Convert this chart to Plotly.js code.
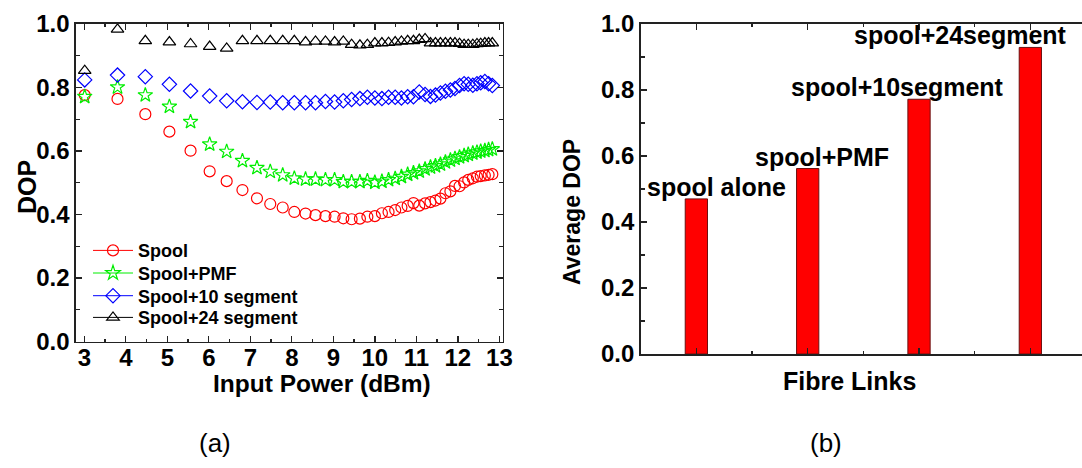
<!DOCTYPE html>
<html>
<head>
<meta charset="utf-8">
<script src="https://cdn.plot.ly/plotly-3.0.1.min.js"></script>
<style>
html,body{margin:0;padding:0;background:#fff;}
#chart{width:1082px;height:468px;}
</style>
</head>
<body>
<div id="chart"></div>
<script>
// ---- Data (a): DOP vs input power ----
var inputPower = [3.01,3.80,4.47,5.05,5.56,6.02,6.43,6.81,7.16,7.48,7.78,8.06,8.33,8.57,8.81,9.03,9.24,9.44,9.64,9.82,10.00,10.17,10.33,10.49,10.64,10.79,10.93,11.07,11.21,11.34,11.46,11.58,11.70,11.82,11.93,12.04,12.15,12.25,12.36,12.46,12.55,12.65,12.74,12.83];
var dopSpool = [0.776,0.764,0.716,0.661,0.601,0.536,0.505,0.477,0.451,0.433,0.422,0.408,0.403,0.398,0.395,0.393,0.388,0.385,0.387,0.393,0.395,0.404,0.408,0.414,0.422,0.427,0.436,0.428,0.435,0.439,0.444,0.450,0.467,0.473,0.490,0.489,0.501,0.509,0.514,0.519,0.521,0.523,0.525,0.527];
var dopSpoolPMF = [0.771,0.801,0.776,0.740,0.692,0.621,0.598,0.569,0.547,0.535,0.524,0.514,0.511,0.511,0.509,0.509,0.503,0.503,0.503,0.506,0.501,0.504,0.509,0.513,0.519,0.526,0.531,0.536,0.543,0.549,0.553,0.558,0.565,0.571,0.576,0.581,0.585,0.589,0.593,0.596,0.599,0.601,0.604,0.606];
var dopSpool10 = [0.824,0.839,0.834,0.810,0.789,0.773,0.758,0.755,0.753,0.754,0.752,0.752,0.752,0.752,0.756,0.754,0.758,0.762,0.765,0.769,0.767,0.765,0.769,0.769,0.767,0.771,0.771,0.786,0.778,0.772,0.776,0.783,0.788,0.792,0.797,0.806,0.812,0.810,0.807,0.812,0.815,0.819,0.812,0.806];
var dopSpool24 = [0.853,0.983,0.947,0.943,0.937,0.929,0.923,0.947,0.947,0.947,0.947,0.947,0.943,0.945,0.945,0.943,0.945,0.935,0.933,0.935,0.940,0.940,0.941,0.943,0.945,0.947,0.947,0.951,0.953,0.940,0.940,0.940,0.940,0.940,0.940,0.938,0.935,0.935,0.935,0.937,0.938,0.940,0.940,0.940];
var seriesNames = ["Spool","Spool+PMF","Spool+10 segment","Spool+24 segment"];

// ---- Data (b): average DOP per fibre link ----
var fibreLinks = ["spool alone","spool+PMF","spool+10segment","spool+24segment"];
var avgDOP = [0.470,0.562,0.772,0.929];

// ---- Styles ----
var seriesColors = ["#ff0000","#00ee00","#0000ff","#000000"];
var seriesSymbols = ["circle-open","star-open","diamond-open","triangle-up-open"];
var seriesData = [dopSpool, dopSpoolPMF, dopSpool10, dopSpool24];
var labelXShift = [20, 14, -22, -70];
var legendRowY = [250.7, 273.3, 296, 317.7];

var W = 1082, H = 468;
function px(x){return x/W;}
function py(y){return 1 - y/H;}

var FONT = "Arial, 'Liberation Sans', sans-serif";
var traces = [];
seriesData.forEach(function(ys, i){
  traces.push({
    type:"scatter", mode:"markers", x:inputPower, y:ys, xaxis:"x", yaxis:"y",
    name:seriesNames[i], showlegend:false,
    marker:{symbol:seriesSymbols[i], size:11, color:seriesColors[i], line:{width:1.2, color:seriesColors[i]}}
  });
});
var legendIds = ["legend","legend2","legend3","legend4"];
seriesData.forEach(function(ys, i){
  traces.push({
    type:"scatter", mode:"lines+markers", x:[null], y:[null], xaxis:"x", yaxis:"y",
    name:seriesNames[i], showlegend:true, legend:legendIds[i],
    line:{color:seriesColors[i], width:1},
    marker:{symbol:seriesSymbols[i], size:11, color:seriesColors[i], line:{width:1.2, color:seriesColors[i]}}
  });
});
var linkIndex = fibreLinks.map(function(c, i){return i;});
traces.push({
  type:"bar", x:linkIndex, y:avgDOP, xaxis:"x2", yaxis:"y2", width:0.2,
  showlegend:false, name:"Average DOP",
  marker:{color:"#ff0000", line:{color:"#6b1010", width:1}}
});

var axisCommon = {
  showline:true, linecolor:"#222", linewidth:1.6, mirror:"ticks",
  ticks:"inside", tickcolor:"#222", tickwidth:1.3, ticklen:6,
  showgrid:false, zeroline:false,
  tickfont:{family:FONT, size:24, color:"#000", weight:"bold"}
};
function ax(extra){ return Object.assign({}, axisCommon, extra); }

function paperText(text, x, y, size, bold, angle){
  var a = {text:text, xref:"paper", yref:"paper", x:px(x), y:py(y), xanchor:"center", yanchor:"middle",
    showarrow:false, font:{family:FONT, size:size, color:"#000", weight:bold ? "bold" : "normal"}};
  if(angle) a.textangle = angle;
  return a;
}
var annotations = [
  paperText("DOP", 27, 187, 25, true, -90),
  paperText("Input Power (dBm)", 322, 383, 24.5, true),
  paperText("Average DOP", 572, 212, 23, true, -90),
  paperText("Fibre Links", 849, 381, 25, true),
  paperText("(a)", 215, 443, 26, false),
  paperText("(b)", 826, 443, 26, false)
];
fibreLinks.forEach(function(lbl, i){
  annotations.push({text:lbl, xref:"x2", yref:"y2", x:linkIndex[i], y:avgDOP[i],
    xanchor:"center", yanchor:"middle", xshift:labelXShift[i], yshift:12, showarrow:false,
    font:{family:FONT, size:25, color:"#000", weight:"bold"}});
});

var layout = {
  width:W, height:H, margin:{l:0,r:0,t:0,b:0},
  paper_bgcolor:"#fff", plot_bgcolor:"#fff",
  font:{family:FONT, color:"#000"},
  showlegend:true,
  annotations:annotations,
  xaxis: ax({domain:[px(76), px(502.7)], range:[2.8, 13.08], anchor:"y", ticklabelstandoff:-6,
    tick0:3, dtick:1, minor:{dtick:0.5, ticks:"inside", ticklen:3, tickcolor:"#222", tickwidth:1.3}}),
  yaxis: ax({domain:[py(341.5), py(24)], range:[0, 1.0], anchor:"x",
    tick0:0, dtick:0.2, tickformat:".1f", minor:{dtick:0.1, ticks:"inside", ticklen:4, tickcolor:"#222", tickwidth:1.3}}),
  xaxis2: ax({domain:[px(640.7), 1], range:[-0.5, 3.464], anchor:"y2", showticklabels:false,
    tick0:0, dtick:1, minor:{dtick:0.5, ticks:"inside", ticklen:3, tickcolor:"#222", tickwidth:1.3}}),
  yaxis2: ax({domain:[py(354), py(24)], range:[0, 1.0], anchor:"x2", mirror:false,
    tick0:0, dtick:0.2, tickformat:".1f", minor:{dtick:0.1, ticks:"inside", ticklen:4, tickcolor:"#222", tickwidth:1.3}}),
  yaxis3: ax({overlaying:"y2", side:"right", anchor:"x2", matches:"y2", showline:false, mirror:false,
    showticklabels:false, tick0:0, dtick:0.2,
    minor:{dtick:0.1, ticks:"inside", ticklen:4, tickcolor:"#222", tickwidth:1.3}})
};
legendIds.forEach(function(id, i){
  layout[id] = {x:px(88), y:py(legendRowY[i]), xanchor:"left", yanchor:"middle", bgcolor:"rgba(0,0,0,0)",
    borderwidth:0, itemwidth:40,
    font:{family:FONT, size:18, color:"#000", weight:"bold"}};
});

Plotly.newPlot("chart", traces, layout, {displayModeBar:false, staticPlot:true});
</script>
</body>
</html>
